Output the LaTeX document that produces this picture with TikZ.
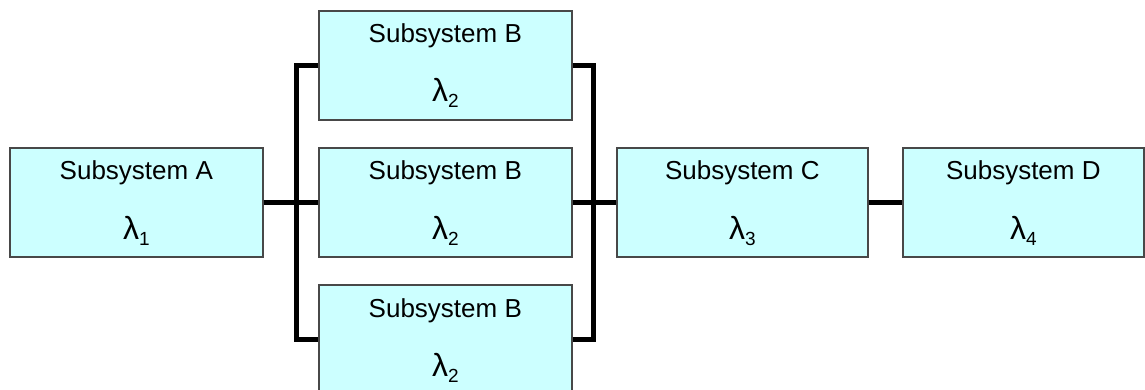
\documentclass[tikz,border=0pt]{standalone}
\usepackage{fontspec}
\setmainfont{Liberation Sans}
\usetikzlibrary{calc}
\definecolor{boxfill}{HTML}{CCFFFF}
\definecolor{boxline}{HTML}{484848}
\newcommand{\rate}[1]{λ\raisebox{-6pt}{\fontsize{19}{19}\selectfont #1}}
\begin{document}
\begin{tikzpicture}[x=1pt,y=-1pt,
  block/.style={draw=boxline, fill=boxfill, line width=1.6pt,
    minimum width=253pt, minimum height=109pt, inner sep=0pt, anchor=north west},
  title/.style={font=\fontsize{26}{26}\selectfont, inner sep=0pt, anchor=base},
  ratelbl/.style={font=\fontsize{32}{32}\selectfont, inner sep=0pt, anchor=base},
  wire/.style={line width=5pt, black, line join=miter}]
\clip (0,0) rectangle (1145,390);
% blocks
\node[block] (A) at (9,147) {};
\node[block] (B1) at (318,10) {};
\node[block] (B2) at (318,147) {};
\node[block] (B3) at (318,284) {};
\node[block, minimum width=251pt] (C) at (616,147) {};
\node[block, minimum width=241pt] (D) at (902,147) {};
% labels
\foreach \n/\t/\s in {A/A/1, B1/B/2, B2/B/2, B3/B/2, C/C/3, D/D/4}{
  \node[title] (\n-t) at ($(\n.north)+(0,33)$) {Subsystem \t};
  \node[ratelbl] (\n-r) at ($(\n.north)+(0,92)$) {\rate{\s}};
}
% bus positions
\coordinate (busL) at (296,0);
\coordinate (busR) at (593,0);
% connections
\draw[wire] (A.east) -- (B2.west);
\draw[wire] (B1.west) -- (B1.west -| busL) -- (B3.west -| busL) -- (B3.west);
\draw[wire] (B1.east) -- (B1.east -| busR) -- (B3.east -| busR) -- (B3.east);
\draw[wire] (B2.east) -- (C.west);
\draw[wire] (C.east) -- (D.west);
\end{tikzpicture}
\end{document}
